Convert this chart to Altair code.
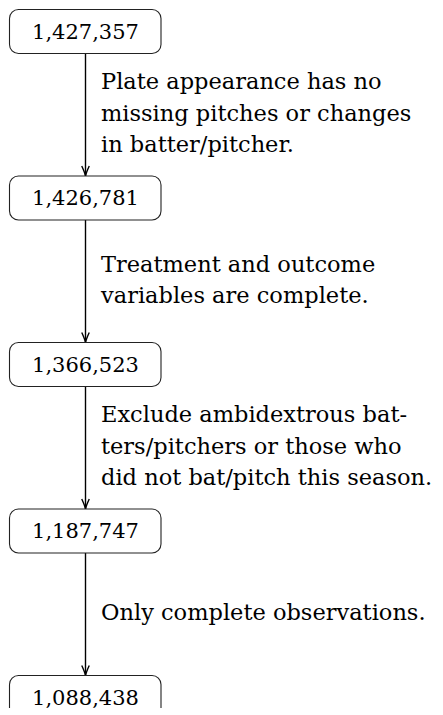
import altair as alt
import pandas as pd

# ---- data ----
counts = [1427357, 1426781, 1366523, 1187747, 1088438]
criteria = [
    ["Plate appearance has no", "missing pitches or changes", "in batter/pitcher."],
    ["Treatment and outcome", "variables are complete."],
    ["Exclude ambidextrous bat-", "ters/pitchers or those who", "did not bat/pitch this season."],
    ["Only complete observations."],
]

# ---- layout constants (pixels) ----
W, H = 427, 700
STEP_PX = 166.5          # vertical distance between boxes
FIRST_PX = 23.5          # centre of first box
BOX_HALF = 22 / STEP_PX  # half box height in step units
LINE_PX = 31.5
LABEL_SHIFT = 6.0
FONT = "DejaVu Serif"

boxes = pd.DataFrame({"step": list(range(len(counts))), "count": counts})
boxes["top"] = boxes["step"] - BOX_HALF
boxes["bot"] = boxes["step"] + BOX_HALF

arrows = pd.DataFrame({"step": list(range(len(criteria)))})
arrows["y0"] = arrows["step"] + BOX_HALF
arrows["y1"] = arrows["step"] + 1 - BOX_HALF

rows = []
for i, lines in enumerate(criteria):
    n = len(lines)
    for j, t in enumerate(lines):
        off = ((j - (n - 1) / 2) * LINE_PX + LABEL_SHIFT) / STEP_PX
        rows.append({"step": i, "line": j, "text": t, "y": i + 0.5 + off})
labels = pd.DataFrame(rows)

lo = -FIRST_PX / STEP_PX
hi = (H - FIRST_PX) / STEP_PX
yscale = alt.Scale(domain=[lo, hi], reverse=True, zero=False, nice=False, padding=0)

BOX_X0, BOX_X1 = 1.5, 153
CX = 77.5
LABEL_X = 93

rules = alt.Chart(arrows).mark_rule(color="black", strokeWidth=1.4).encode(
    x=alt.value(CX),
    y=alt.Y("y0:Q", scale=yscale, axis=None),
    y2="y1:Q",
)

heads = alt.Chart(arrows).mark_point(
    shape="M -0.75 -2 Q -0.15 -0.7 0 0 Q 0.15 -0.7 0.75 -2",
    filled=False, stroke="black", strokeWidth=1.4, size=100, opacity=1,
).encode(
    x=alt.value(CX),
    y=alt.Y("y1:Q", scale=yscale, axis=None),
)

rects = alt.Chart(boxes).mark_rect(
    fill="white", stroke="#222222", strokeWidth=1.1, cornerRadius=9,
).encode(
    x=alt.value(BOX_X0),
    x2=alt.value(BOX_X1),
    y=alt.Y("top:Q", scale=yscale, axis=None),
    y2="bot:Q",
)

nums = alt.Chart(boxes).mark_text(
    font=FONT, fontSize=21, color="black", baseline="middle", align="center", dy=1,
).encode(
    x=alt.value(CX),
    y=alt.Y("step:Q", scale=yscale, axis=None),
    text=alt.Text("count:Q", format=","),
)

texts = alt.Chart(labels).mark_text(
    font=FONT, fontSize=22.5, color="black", baseline="alphabetic", align="left",
).encode(
    x=alt.value(LABEL_X),
    y=alt.Y("y:Q", scale=yscale, axis=None),
    text="text:N",
)

chart = alt.layer(rules, heads, rects, nums, texts).properties(
    width=W, height=H, padding=0, autosize=alt.AutoSizeParams(type="none"),
).configure_view(stroke="transparent")

chart.save("out.html", embed_options={"renderer": "svg", "actions": False})
